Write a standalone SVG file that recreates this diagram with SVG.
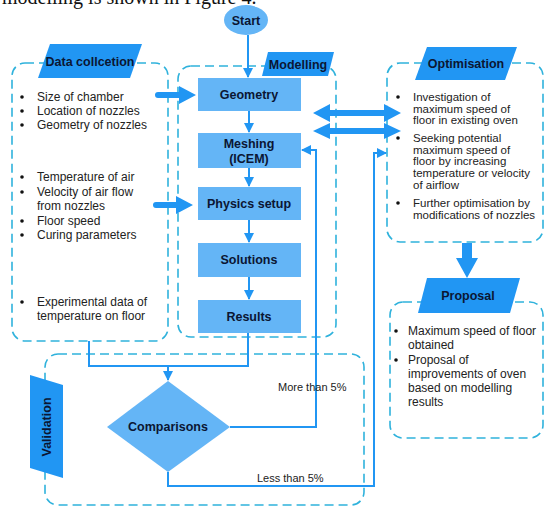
<svg xmlns="http://www.w3.org/2000/svg" width="545" height="507" viewBox="0 0 545 507">
<defs>
<style>
.dash{fill:none;stroke:#2fb2dc;stroke-width:1.6;stroke-dasharray:9 5}
.tag{fill:#2196f3}
.box{fill:#64b5f6}
.lbl{font-family:"Liberation Sans",Arial,sans-serif;font-weight:bold;font-size:12.5px;fill:#0b1633;text-anchor:middle}
.txt{font-family:"Liberation Sans",Arial,sans-serif;font-size:12px;fill:#222}
.opt{font-family:"Liberation Sans",Arial,sans-serif;font-size:11.5px;fill:#222}
.sm{font-family:"Liberation Sans",Arial,sans-serif;font-size:11px;fill:#222}
.ln{fill:none;stroke:#2196f3;stroke-width:2}
.blk{fill:#2196f3}
</style>
<marker id="ah" viewBox="0 0 10 10" refX="9" refY="5" markerWidth="5" markerHeight="5" orient="auto">
<path d="M0,0 L10,5 L0,10 z" fill="#2196f3"/>
</marker>
</defs>
<rect width="545" height="507" fill="#fff"/>
<text x="2" y="4" font-family="Liberation Serif,serif" font-size="20" fill="#111">modelling is shown in Figure 4.</text>

<g id="start">
<ellipse cx="246" cy="20" rx="22" ry="15" fill="#64b5f6"/>
<text class="lbl" x="246" y="25">Start</text>
</g>

<g id="data-collection">
<rect class="dash" x="12" y="63" width="156" height="278" rx="13"/>
<polygon class="tag" points="50,44 142,44 130,78 38,78"/>
<text class="lbl" x="90" y="66">Data collcetion</text>
<g class="txt">
<circle cx="22" cy="97" r="1.8" fill="#111"/><text x="37" y="101">Size of chamber</text>
<circle cx="22" cy="111" r="1.8" fill="#111"/><text x="37" y="115">Location of nozzles</text>
<circle cx="22" cy="125" r="1.8" fill="#111"/><text x="37" y="129">Geometry of nozzles</text>
<circle cx="22" cy="177" r="1.8" fill="#111"/><text x="37" y="181">Temperature of air</text>
<circle cx="22" cy="192" r="1.8" fill="#111"/><text x="37" y="196">Velocity of air flow</text>
<text x="37" y="210">from nozzles</text>
<circle cx="22" cy="221" r="1.8" fill="#111"/><text x="37" y="225">Floor speed</text>
<circle cx="22" cy="235" r="1.8" fill="#111"/><text x="37" y="239">Curing parameters</text>
<circle cx="22" cy="302" r="1.8" fill="#111"/><text x="37" y="306">Experimental data of</text>
<text x="37" y="320">temperature on floor</text>
</g>
</g>

<g id="modelling">
<rect class="dash" x="178" y="66" width="158" height="271" rx="13"/>
<polygon class="tag" points="268,52 334,52 328,76 262,76"/>
<text class="lbl" x="298" y="69">Modelling</text>
</g>
<g id="geometry"><rect class="box" x="198" y="78" width="103" height="33"/><text class="lbl" x="249" y="99">Geometry</text></g>
<g id="meshing"><rect class="box" x="198" y="133" width="103" height="35"/><text class="lbl" x="249" y="148">Meshing</text><text class="lbl" x="249" y="163">(ICEM)</text></g>
<g id="physics"><rect class="box" x="198" y="187" width="103" height="33"/><text class="lbl" x="249" y="208">Physics setup</text></g>
<g id="solutions"><rect class="box" x="198" y="243" width="103" height="34"/><text class="lbl" x="249" y="264">Solutions</text></g>
<g id="results"><rect class="box" x="198" y="300" width="103" height="33"/><text class="lbl" x="249" y="321">Results</text></g>

<g id="optimisation">
<rect class="dash" x="387" y="63" width="156" height="179" rx="13"/>
<polygon class="tag" points="427,47 517,47 505,80 415,80"/>
<text class="lbl" x="466" y="68">Optimisation</text>
<g class="opt">
<circle cx="398" cy="97" r="1.8" fill="#111"/>
<text x="413" y="101">Investigation of</text>
<text x="413" y="112.5">maximum speed of</text>
<text x="413" y="124">floor in existing oven</text>
<circle cx="398" cy="138" r="1.8" fill="#111"/>
<text x="413" y="142">Seeking potential</text>
<text x="413" y="153.5">maximum speed of</text>
<text x="413" y="165">floor by increasing</text>
<text x="413" y="176.5">temperature or velocity</text>
<text x="413" y="189">of airflow</text>
<circle cx="398" cy="203" r="1.8" fill="#111"/>
<text x="413" y="207">Further optimisation  by</text>
<text x="413" y="219">modifications of nozzles</text>
</g>
</g>

<g id="proposal">
<rect class="dash" x="390" y="302" width="153" height="136" rx="13"/>
<polygon class="tag" points="427,278 520,278 510,313 418,313"/>
<text class="lbl" x="468" y="300">Proposal</text>
<g class="txt">
<circle cx="396" cy="331" r="1.8" fill="#111"/>
<text x="408" y="335">Maximum speed of floor</text>
<text x="408" y="349">obtained</text>
<circle cx="396" cy="360" r="1.8" fill="#111"/>
<text x="408" y="364">Proposal of</text>
<text x="408" y="378">improvements of oven</text>
<text x="408" y="392">based on modelling</text>
<text x="408" y="406">results</text>
</g>
</g>

<g id="validation">
<rect class="dash" x="45" y="354" width="319" height="151" rx="13"/>
<polygon class="tag" points="30,375 63,385 63,478 30,468"/>
<text class="lbl" transform="translate(51,427) rotate(-90)">Validation</text>
</g>

<g id="comparisons">
<polygon class="box" points="168,381 230,427 168,472 107,427"/>
<text class="lbl" x="168" y="431">Comparisons</text>
</g>

<g id="connectors">
<line class="ln" x1="248" y1="35" x2="248" y2="77" marker-end="url(#ah)"/>
<line class="ln" x1="249" y1="111" x2="249" y2="132" marker-end="url(#ah)"/>
<line class="ln" x1="249" y1="168" x2="249" y2="186" marker-end="url(#ah)"/>
<line class="ln" x1="249" y1="220" x2="249" y2="242" marker-end="url(#ah)"/>
<line class="ln" x1="249" y1="277" x2="249" y2="299" marker-end="url(#ah)"/>
<polyline class="ln" points="89,341 89,366 248,366 248,333"/>
<line class="ln" x1="168" y1="366" x2="168" y2="380" marker-end="url(#ah)"/>
<polyline class="ln" points="230,427 316,427 316,150 302,150" marker-end="url(#ah)"/>
<polyline class="ln" points="168,472 168,486 374,486 374,153 386,153" marker-end="url(#ah)"/>
<text class="sm" x="278" y="391">More than 5%</text>
<text class="sm" x="257" y="482">Less than 5%</text>
<path class="blk" d="M158,92 L179,92 L179,86 L196,95 L179,104 L179,98 L158,98 A3,3 0 0 1 158,92 z"/>
<path class="blk" d="M156,202 L176,202 L176,196 L193,205 L176,214 L176,208 L156,208 A3,3 0 0 1 156,202 z"/>
<path class="blk" d="M313,113 L330,104 L330,110 L384,110 L384,104 L401,113 L384,122 L384,116 L330,116 L330,122 z"/>
<path class="blk" d="M313,131 L330,123 L330,128 L384,128 L384,123 L401,131 L384,139 L384,134 L330,134 L330,139 z"/>
<path class="blk" d="M462,243 L472,243 L472,258 L478,258 L467,278 L456,258 L462,258 z"/>
</g>
</svg>
